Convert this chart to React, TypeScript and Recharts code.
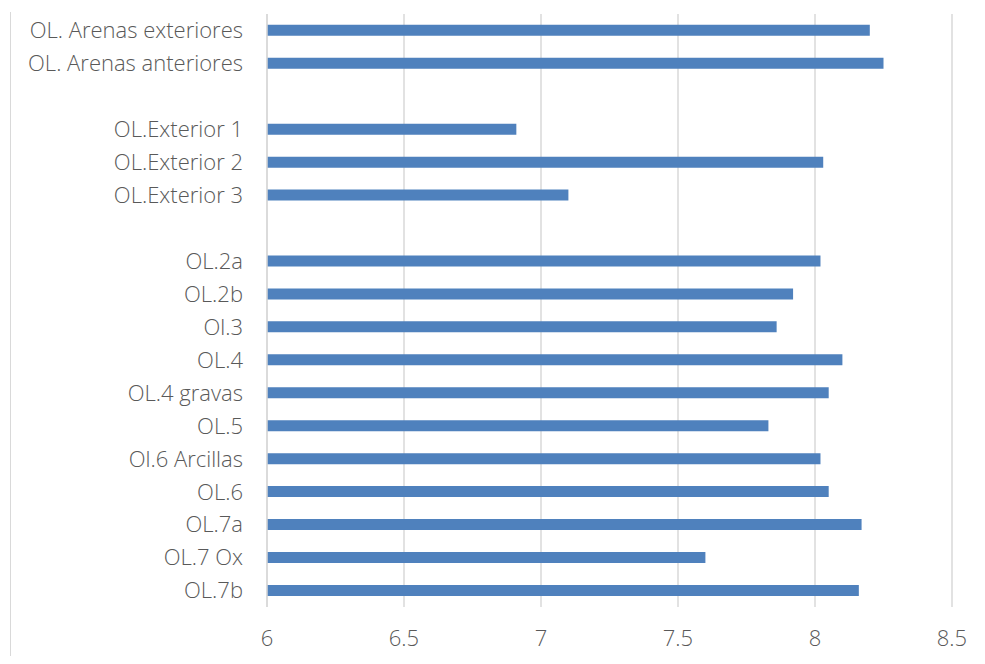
import React from "react";
import { BarChart, Bar, XAxis, YAxis, CartesianGrid } from "recharts";

// muestras, de arriba abajo (las cadenas vacías dejan una fila en blanco)
const muestras = [
  "OL. Arenas exteriores",
  "OL. Arenas anteriores",
  "",
  "OL.Exterior 1",
  "OL.Exterior 2",
  "OL.Exterior 3",
  " ",
  "OL.2a",
  "OL.2b",
  "Ol.3",
  "OL.4",
  "OL.4 gravas",
  "OL.5",
  "Ol.6 Arcillas",
  "OL.6",
  "OL.7a",
  "OL.7 Ox",
  "OL.7b",
];

const valores = [
  8.2, 8.25, null, 6.91, 8.03, 7.1, null, 8.02, 7.92, 7.86, 8.1, 8.05, 7.83,
  8.02, 8.05, 8.17, 7.6, 8.16,
];

const ticksX = [6, 6.5, 7, 7.5, 8, 8.5];

const data = muestras.map((name, i) => ({ name, valor: valores[i] }));

const fuente = "'Open Sans', Lato, sans-serif";
const gris = "#595959";
const lineas = "#d9d9d9";
const texto = { fill: gris, fontSize: 22, fontFamily: fuente, fontWeight: 300 };

export default function App() {
  return (
    <div style={{ position: "relative", width: 969, height: 648 }}>
      {/* borde izquierdo del marco del gráfico */}
      <div
        style={{
          position: "absolute",
          left: 2,
          top: 4,
          bottom: -16,
          borderLeft: `1px solid ${lineas}`,
        }}
      />
      <BarChart
        width={969}
        height={648}
        data={data}
        layout="vertical"
        margin={{ top: 6, right: 25, bottom: 0, left: 0 }}
        barCategoryGap="33%"
      >
        <CartesianGrid horizontal={false} vertical stroke={lineas} strokeWidth={1.5} />
        <XAxis
          type="number"
          domain={[6, 8.5]}
          ticks={ticksX}
          axisLine={false}
          tickLine={false}
          height={49}
          tickMargin={17}
          tick={texto}
        />
        <YAxis
          type="category"
          dataKey="name"
          width={259}
          interval={0}
          axisLine={{ stroke: lineas, strokeWidth: 1.5 }}
          tickLine={false}
          tickMargin={18}
          tick={texto}
        />
        <Bar dataKey="valor" fill="#4f81bd" isAnimationActive={false} />
      </BarChart>
    </div>
  );
}
